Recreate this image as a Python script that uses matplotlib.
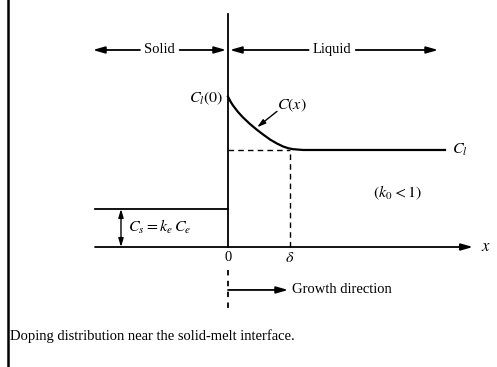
import numpy as np
from matplotlib import pyplot as plt

plt.rcParams['font.family'] = ['Liberation Serif', 'DejaVu Serif']
plt.rcParams['mathtext.fontset'] = 'stix'

# values (x: interface = 0, delta = 1 ; y: far-field C_l ~ 1)
delta = 1.0
cl_level = 0.98
cs_level = 0.384
curve_x = [0.0, 0.04, 0.08, 0.16, 0.24, 0.35, 0.47, 0.58, 0.68, 0.79, 0.89, 0.97, 1.05, 1.21, 3.5]
curve_y = [1.518, 1.47, 1.43, 1.365, 1.31, 1.245, 1.182, 1.13, 1.085, 1.045, 1.015, 0.998, 0.988, 0.98, 0.98]

fig = plt.figure(figsize=(4.97, 3.67), dpi=100)
ax = fig.add_axes([0, 0, 1, 1])
ax.set_xlim(-228 / 62, (497 - 228) / 62)
ax.set_ylim((247 - 367) / 99, 247 / 99)
ax.axis('off')

lw = 1.3
k = 'black'

# axes
ax.plot([0, 0], [0, 2.354], color=k, lw=lw)
ax.annotate('', xy=(3.95, 0), xytext=(-2.145, 0),
            arrowprops=dict(arrowstyle='-|>,head_length=0.7,head_width=0.2', color=k, lw=lw, shrinkA=0, shrinkB=0))
ax.text(4.08, 0, '$x$', fontsize=12, va='center', ha='left')

# solid level
ax.plot([-2.145, 0], [cs_level, cs_level], color=k, lw=lw)
ax.annotate('', xy=(-1.726, cs_level), xytext=(-1.726, 0),
            arrowprops=dict(arrowstyle='<|-|>,head_length=0.5,head_width=0.15', color=k, lw=1.0, shrinkA=0, shrinkB=0))
ax.text(-1.62, 0.2, '$C_s = k_e\\,C_e$', fontsize=11.5, va='center', ha='left')

# curve C(x)
ax.plot(curve_x, curve_y, color=k, lw=1.6, solid_joinstyle='round')
ax.plot([0, delta], [cl_level, cl_level], color=k, lw=1.0, ls=(0, (4, 3)))
ax.plot([delta, delta], [0, cl_level], color=k, lw=1.0, ls=(0, (4, 3)))
ax.text(-0.07, 1.50, '$C_l(0)$', fontsize=11.5, ha='right', va='center')
ax.text(0.79, 1.43, '$C(x)$', fontsize=11.5, ha='left', va='center')
ax.annotate('', xy=(0.47, 1.21), xytext=(0.79, 1.37),
            arrowprops=dict(arrowstyle='-|>,head_length=0.5,head_width=0.15', color=k, lw=1.0, shrinkA=0, shrinkB=0))
ax.text(3.62, cl_level, '$C_l$', fontsize=11.5, ha='left', va='center')
ax.text(2.73, 0.545, '$(k_0 < 1)$', fontsize=11.5, ha='center', va='center')

# tick labels
ax.text(0, -0.11, '0', fontsize=10.5, ha='center', va='center')
ax.text(delta, -0.11, '$\\delta$', fontsize=11.5, ha='center', va='center')

# solid / liquid arrows
aprops = dict(arrowstyle='-|>,head_length=0.7,head_width=0.2', color=k, lw=lw, shrinkA=0, shrinkB=0)
ax.annotate('', xy=(-2.18, 1.99), xytext=(-1.42, 1.99), arrowprops=aprops)
ax.text(-1.1, 1.99, 'Solid', fontsize=10.5, ha='center', va='center')
ax.annotate('', xy=(-0.03, 1.99), xytext=(-0.78, 1.99), arrowprops=aprops)
ax.annotate('', xy=(0.03, 1.99), xytext=(1.3, 1.99), arrowprops=aprops)
ax.text(1.68, 1.99, 'Liquid', fontsize=10.5, ha='center', va='center')
ax.annotate('', xy=(3.39, 1.99), xytext=(2.06, 1.99), arrowprops=aprops)

# growth direction
ax.plot([0, 0], [-0.232, -0.657], color=k, lw=1.3, ls=(0, (3, 3)))
ax.annotate('', xy=(0.97, -0.434), xytext=(0, -0.434), arrowprops=aprops)
ax.text(1.03, -0.434, 'Growth direction', fontsize=10.5, ha='left', va='center')

# frame line and caption
fig.add_artist(plt.Line2D([8 / 497, 8 / 497], [0, 1], color=k, lw=1.8, transform=fig.transFigure))
fig.text(10 / 497, 1 - 336 / 367, 'Doping distribution near the solid-melt interface.',
         fontsize=10.5, ha='left', va='center')

fig.savefig('out.png', dpi=100)
